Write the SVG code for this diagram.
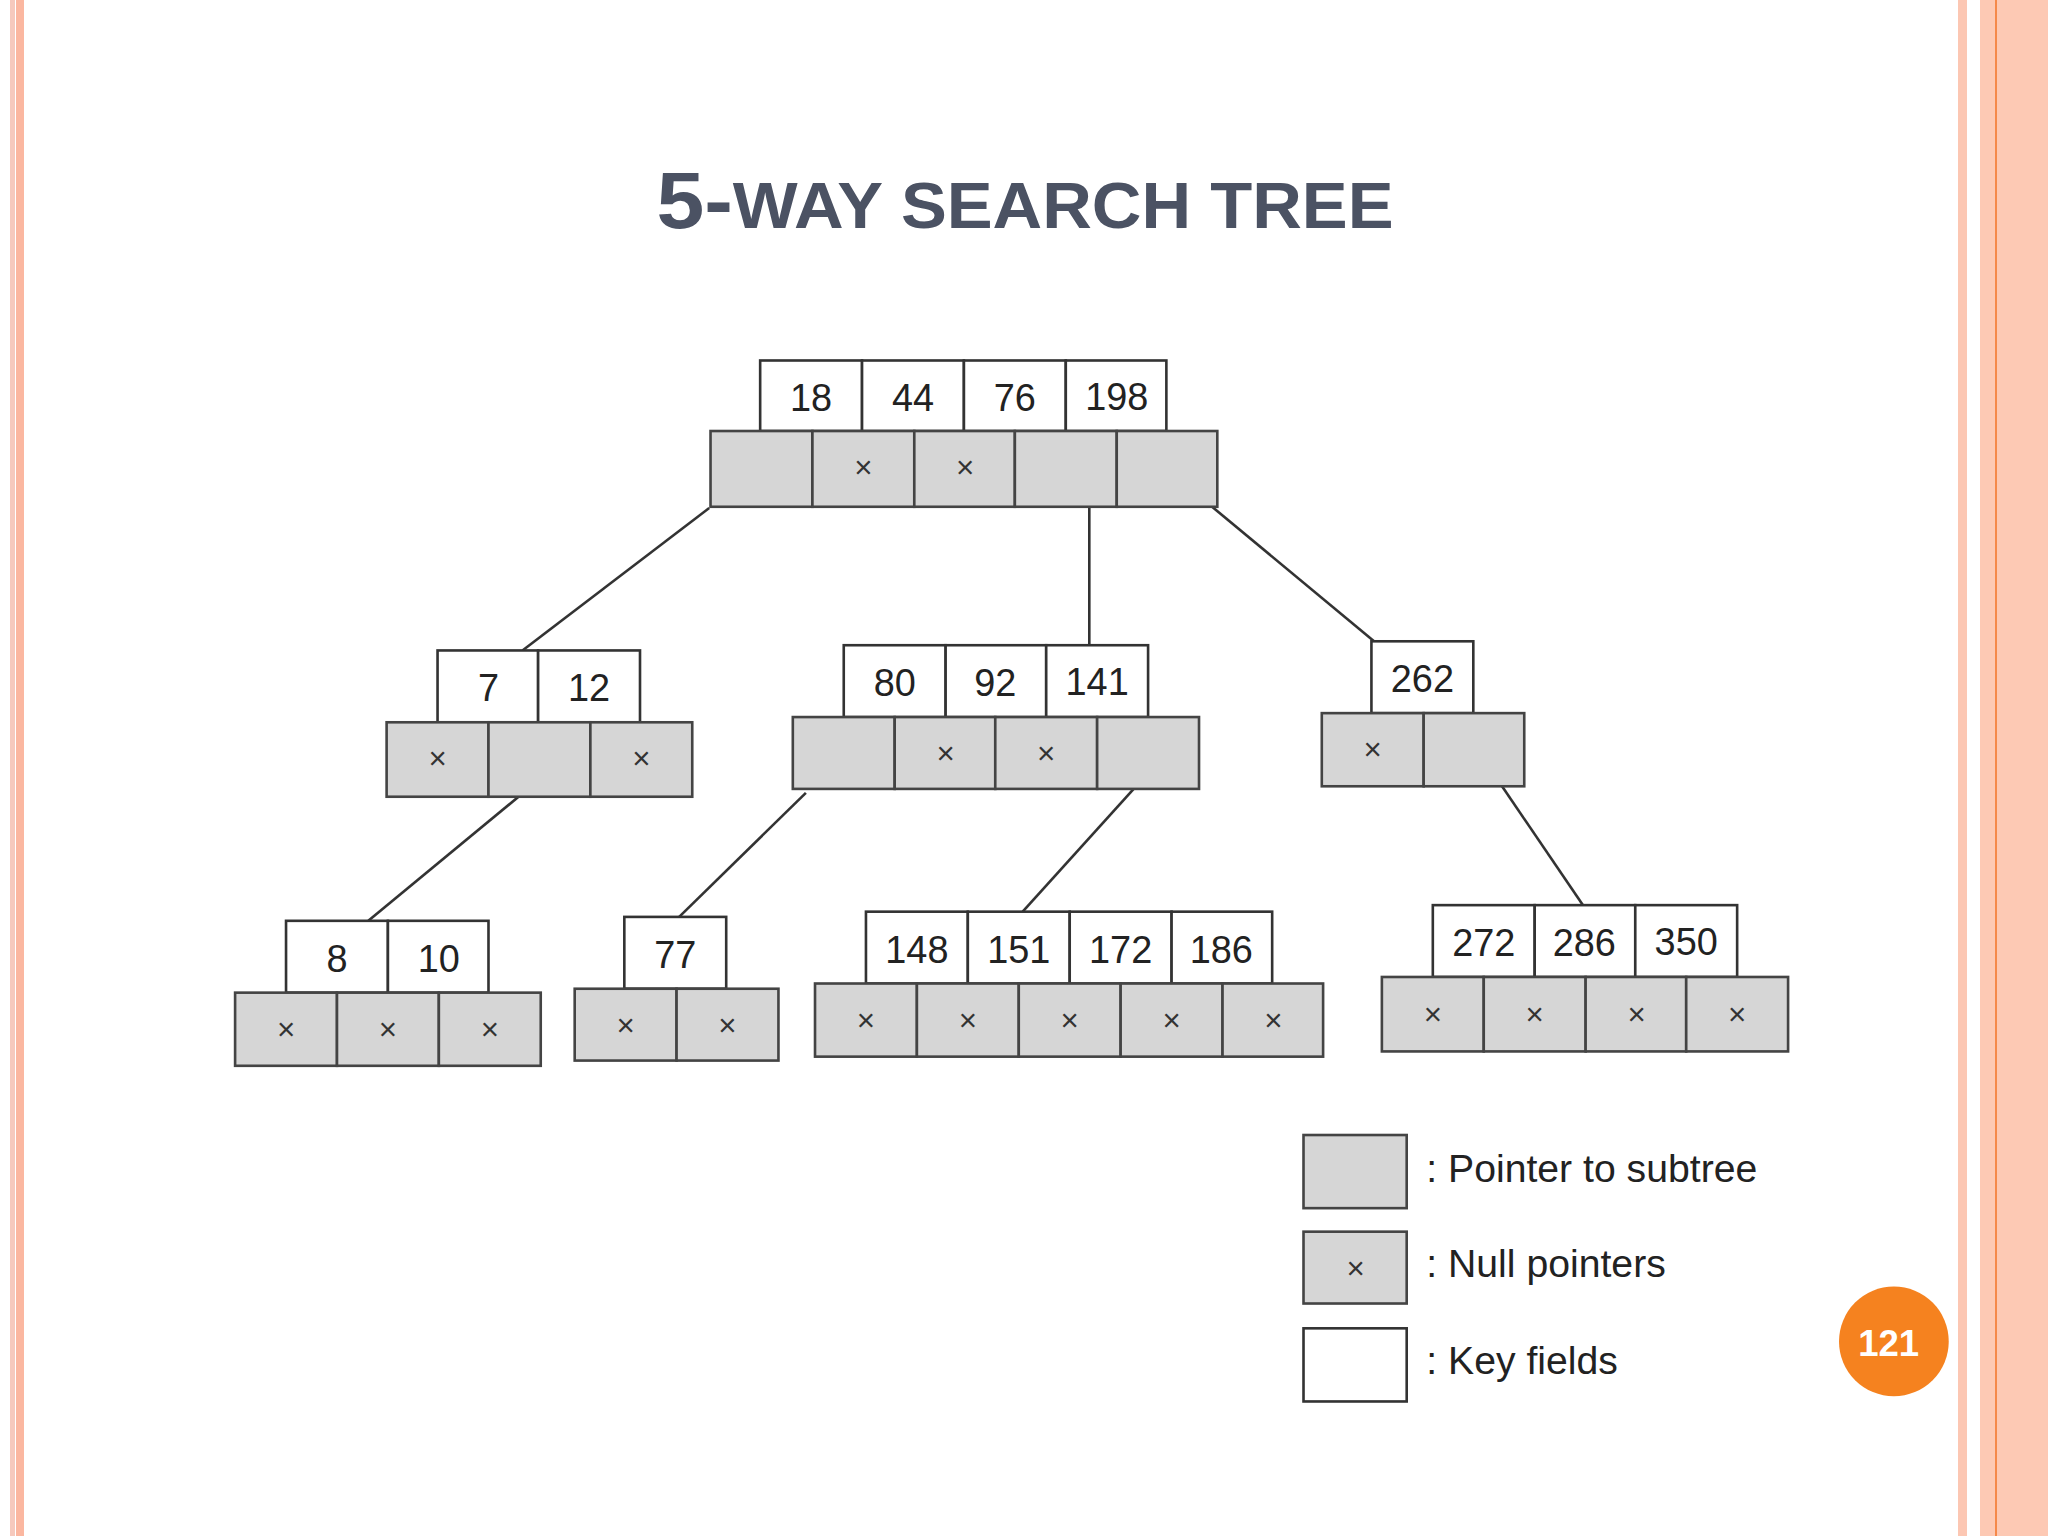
<svg xmlns="http://www.w3.org/2000/svg" width="2048" height="1536" viewBox="0 0 2048 1536">
<style>
.k{fill:#fff;stroke:#333;stroke-width:2}
.p{fill:#d6d6d6;stroke:#444;stroke-width:2}
.t{font-family:"Liberation Sans",Arial,sans-serif;font-size:29px;fill:#222;text-anchor:middle}
.x{font-family:"Liberation Sans",Arial,sans-serif;font-size:24px;fill:#333;text-anchor:middle}
.l{font-family:"Liberation Sans",Arial,sans-serif;font-size:30px;fill:#222}
.c line{stroke:#333;stroke-width:2}
</style>
<rect width="2048" height="1536" fill="#fff"/>
<rect x="10" y="0" width="5" height="1536" fill="#f6c9bd"/>
<rect x="16" y="0" width="8" height="1536" fill="#fbb7a0"/>
<rect x="1958" y="0" width="9" height="1536" fill="#fcc7b3"/>
<rect x="1980" y="0" width="68" height="1536" fill="#fdc9b4"/>
<rect x="1995" y="0" width="2" height="1536" fill="#f5894a"/>
<text x="1025" y="228" font-family="Liberation Sans,Arial,sans-serif" font-weight="bold" fill="#4b5263" text-anchor="middle" textLength="737" lengthAdjust="spacingAndGlyphs"><tspan font-size="80">5-</tspan><tspan font-size="64">WAY SEARCH TREE</tspan></text>
<g transform="scale(1.306122)">
<g class="c" id="connectors">
<line x1="543" y1="389" x2="400" y2="498"/>
<line x1="834" y1="388" x2="834" y2="494"/>
<line x1="928" y1="388" x2="1052" y2="491"/>
<line x1="397" y1="610" x2="282" y2="705"/>
<line x1="617" y1="607" x2="520" y2="702"/>
<line x1="868" y1="604" x2="783" y2="698"/>
<line x1="1150" y1="602" x2="1212" y2="693"/>
</g>
<g id="root">
<rect class="k" x="582" y="276" width="78" height="54"/><rect class="k" x="660" y="276" width="78" height="54"/><rect class="k" x="738" y="276" width="78" height="54"/><rect class="k" x="816" y="276" width="77" height="54"/>
<text class="t" x="621" y="315">18</text><text class="t" x="699" y="315">44</text><text class="t" x="777" y="315">76</text><text class="t" x="855" y="314">198</text>
<rect class="p" x="544" y="330" width="78" height="58"/><rect class="p" x="622" y="330" width="78" height="58"/><rect class="p" x="700" y="330" width="77" height="58"/><rect class="p" x="777" y="330" width="78" height="58"/><rect class="p" x="855" y="330" width="77" height="58"/>
<text class="x" x="661" y="366">×</text><text class="x" x="739" y="366">×</text>
</g>
<g id="n712">
<rect class="k" x="335" y="498" width="77" height="55"/><rect class="k" x="412" y="498" width="78" height="55"/>
<text class="t" x="374" y="537">7</text><text class="t" x="451" y="537">12</text>
<rect class="p" x="296" y="553" width="78" height="57"/><rect class="p" x="374" y="553" width="78" height="57"/><rect class="p" x="452" y="553" width="78" height="57"/>
<text class="x" x="335" y="589">×</text><text class="x" x="491" y="589">×</text>
</g>
<g id="n8092141">
<rect class="k" x="646" y="494" width="78" height="55"/><rect class="k" x="724" y="494" width="77" height="55"/><rect class="k" x="801" y="494" width="78" height="55"/>
<text class="t" x="685" y="533">80</text><text class="t" x="762" y="533">92</text><text class="t" x="840" y="532">141</text>
<rect class="p" x="607" y="549" width="78" height="55"/><rect class="p" x="685" y="549" width="77" height="55"/><rect class="p" x="762" y="549" width="78" height="55"/><rect class="p" x="840" y="549" width="78" height="55"/>
<text class="x" x="724" y="585">×</text><text class="x" x="801" y="585">×</text>
</g>
<g id="n262">
<rect class="k" x="1050" y="491" width="78" height="55"/>
<text class="t" x="1089" y="530">262</text>
<rect class="p" x="1012" y="546" width="78" height="56"/><rect class="p" x="1090" y="546" width="77" height="56"/>
<text class="x" x="1051" y="582">×</text>
</g>
<g id="n810">
<rect class="k" x="219" y="705" width="78" height="55"/><rect class="k" x="297" y="705" width="77" height="55"/>
<text class="t" x="258" y="744">8</text><text class="t" x="336" y="744">10</text>
<rect class="p" x="180" y="760" width="78" height="56"/><rect class="p" x="258" y="760" width="78" height="56"/><rect class="p" x="336" y="760" width="78" height="56"/>
<text class="x" x="219" y="796">×</text><text class="x" x="297" y="796">×</text><text class="x" x="375" y="796">×</text>
</g>
<g id="n77">
<rect class="k" x="478" y="702" width="78" height="55"/>
<text class="t" x="517" y="741">77</text>
<rect class="p" x="440" y="757" width="78" height="55"/><rect class="p" x="518" y="757" width="78" height="55"/>
<text class="x" x="479" y="793">×</text><text class="x" x="557" y="793">×</text>
</g>
<g id="n148">
<rect class="k" x="663" y="698" width="78" height="55"/><rect class="k" x="741" y="698" width="78" height="55"/><rect class="k" x="819" y="698" width="78" height="55"/><rect class="k" x="897" y="698" width="77" height="55"/>
<text class="t" x="702" y="737">148</text><text class="t" x="780" y="737">151</text><text class="t" x="858" y="737">172</text><text class="t" x="935" y="737">186</text>
<rect class="p" x="624" y="753" width="78" height="56"/><rect class="p" x="702" y="753" width="78" height="56"/><rect class="p" x="780" y="753" width="78" height="56"/><rect class="p" x="858" y="753" width="78" height="56"/><rect class="p" x="936" y="753" width="77" height="56"/>
<text class="x" x="663" y="789">×</text><text class="x" x="741" y="789">×</text><text class="x" x="819" y="789">×</text><text class="x" x="897" y="789">×</text><text class="x" x="975" y="789">×</text>
</g>
<g id="n272">
<rect class="k" x="1097" y="693" width="78" height="55"/><rect class="k" x="1175" y="693" width="77" height="55"/><rect class="k" x="1252" y="693" width="78" height="55"/>
<text class="t" x="1136" y="732">272</text><text class="t" x="1213" y="732">286</text><text class="t" x="1291" y="731">350</text>
<rect class="p" x="1058" y="748" width="78" height="57"/><rect class="p" x="1136" y="748" width="78" height="57"/><rect class="p" x="1214" y="748" width="77" height="57"/><rect class="p" x="1291" y="748" width="78" height="57"/>
<text class="x" x="1097" y="785">×</text><text class="x" x="1175" y="785">×</text><text class="x" x="1253" y="785">×</text><text class="x" x="1330" y="785">×</text>
</g>
<g id="legend">
<rect class="p" x="998" y="869" width="79" height="56"/><text class="l" x="1092" y="905">: Pointer to subtree</text>
<rect class="p" x="998" y="943" width="79" height="55"/><text class="x" x="1038" y="979">×</text><text class="l" x="1092" y="978">: Null pointers</text>
<rect class="k" x="998" y="1017" width="79" height="56"/><text class="l" x="1092" y="1052">: Key fields</text>
</g>
<g id="pagenum">
<circle cx="1450" cy="1027" r="42" fill="#f5821f"/>
<text x="1446" y="1038" font-family="Liberation Sans,Arial,sans-serif" font-weight="bold" font-size="28" fill="#fff" text-anchor="middle">121</text>
</g>
</g>
</svg>
